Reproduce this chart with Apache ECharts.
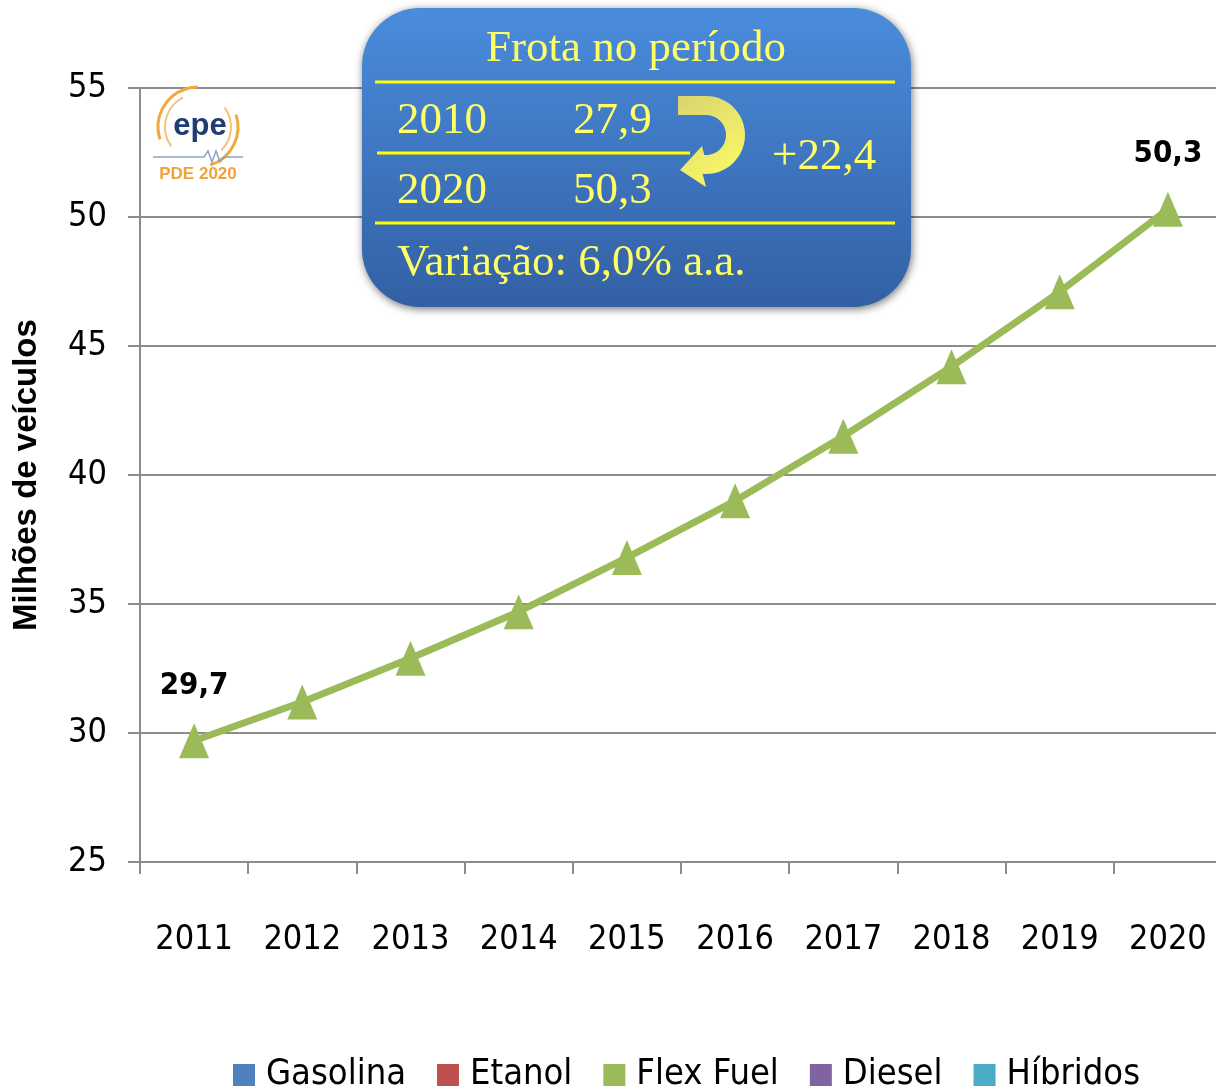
<!DOCTYPE html>
<html>
<head>
<meta charset="utf-8">
<script src="https://cdn.jsdelivr.net/npm/echarts@6/dist/echarts.min.js"></script>
<style>html,body{margin:0;padding:0;background:#fff;}#c{width:1216px;height:1088px;}</style>
</head>
<body>
<div id="c"></div>
<script>
const years = ['2011','2012','2013','2014','2015','2016','2017','2018','2019','2020'];
const flexFuel = [29.7, 31.2, 32.9, 34.7, 36.8, 39.0, 41.5, 44.2, 47.1, 50.3];
const legendNames = ['Gasolina','Etanol','Flex Fuel','Diesel','Híbridos'];
const legendColors = ['#4F81BD','#C0504D','#9BBB59','#8064A2','#4BACC6'];
const labeledIdx = [0, 9];

const narrow = '"Liberation Sans Narrow","DejaVu Sans Condensed",Arial,sans-serif';
const serif = '"Liberation Serif","DejaVu Serif",serif';

const chart = echarts.init(document.getElementById('c'));

const series = legendNames.map((n, i) => {
  if (n !== 'Flex Fuel') return {name: n, type: 'line', data: [], itemStyle: {color: legendColors[i]}};
  return {
    name: n, type: 'line', z: 3,
    data: flexFuel.map((v, k) => ({value: v, label: {show: labeledIdx.includes(k)}})),
    symbol: 'triangle', symbolSize: [30, 35],
    lineStyle: {color: legendColors[i], width: 7},
    itemStyle: {color: legendColors[i]},
    label: {position: 'top', distance: 22, fontFamily: narrow, fontWeight: 'bold', fontSize: 31, color: '#000',
      formatter: p => p.value.toFixed(1).replace('.', ',')}
  };
});

// curved arrow outline (decoration)
function arrowPoints() {
  const cx = 706, cy = 135, ro = 39, ri = 20;
  const pts = [[678, 96]];
  for (let a = -90; a <= 95; a += 5) {
    const r = a * Math.PI / 180;
    pts.push([cx + ro * Math.cos(r), cy + ro * Math.sin(r)]);
  }
  pts.push([706, 187], [680, 170], [702, 146]);
  for (let a = 95; a >= -90; a -= 5) {
    const r = a * Math.PI / 180;
    pts.push([cx + ri * Math.cos(r), cy + ri * Math.sin(r)]);
  }
  pts.push([678, 115]);
  return pts;
}

const Y = '#FFFF66';
const F = '45px ' + serif;
const graphic = [
  {type: 'rect', z: 100, shape: {x: 362, y: 8, width: 549, height: 299, r: 58},
   style: {fill: {type: 'linear', x: 0, y: 0, x2: 0, y2: 1, colorStops: [{offset: 0, color: '#4A8CDC'}, {offset: 1, color: '#3360A4'}]},
     shadowBlur: 8, shadowColor: 'rgba(0,0,0,0.55)', shadowOffsetX: 1, shadowOffsetY: 2}},
  {type: 'text', z: 101, style: {text: 'Frota no período', x: 636, y: 49, font: F, fill: Y, textAlign: 'center', verticalAlign: 'middle'}},
  {type: 'line', z: 101, shape: {x1: 375, y1: 82, x2: 895, y2: 82}, style: {stroke: '#FFFF00', lineWidth: 3}},
  {type: 'line', z: 101, shape: {x1: 377, y1: 153, x2: 690, y2: 153}, style: {stroke: '#FFFF00', lineWidth: 3}},
  {type: 'line', z: 101, shape: {x1: 375, y1: 223, x2: 895, y2: 223}, style: {stroke: '#FFFF00', lineWidth: 3}},
  {type: 'text', z: 101, style: {text: '2010', x: 397, y: 121, font: F, fill: Y, verticalAlign: 'middle'}},
  {type: 'text', z: 101, style: {text: '27,9', x: 573, y: 121, font: F, fill: Y, verticalAlign: 'middle'}},
  {type: 'text', z: 101, style: {text: '2020', x: 397, y: 191, font: F, fill: Y, verticalAlign: 'middle'}},
  {type: 'text', z: 101, style: {text: '50,3', x: 573, y: 191, font: F, fill: Y, verticalAlign: 'middle'}},
  {type: 'text', z: 101, style: {text: '+22,4', x: 772, y: 157, font: F, fill: Y, verticalAlign: 'middle'}},
  {type: 'text', z: 101, style: {text: 'Variação: 6,0% a.a.', x: 397, y: 263, font: F, fill: Y, verticalAlign: 'middle'}},
  {type: 'polygon', z: 102, shape: {points: arrowPoints()},
   style: {fill: {type: 'linear', x: 0, y: 0, x2: 1, y2: 1, colorStops: [{offset: 0, color: '#D9D46E'}, {offset: 1, color: '#FFFF66'}]}}},
  // logo
  {type: 'arc', z: 50, shape: {cx: 198, cy: 127, r: 40, startAngle: Math.PI * 0.9, endAngle: Math.PI * 1.5}, style: {stroke: '#F2A93B', lineWidth: 3, fill: null}},
  {type: 'arc', z: 50, shape: {cx: 198, cy: 127, r: 33, startAngle: Math.PI * 0.8, endAngle: Math.PI * 1.35}, style: {stroke: '#F7C27A', lineWidth: 2, fill: null}},
  {type: 'arc', z: 50, shape: {cx: 198, cy: 127, r: 40, startAngle: Math.PI * 1.9, endAngle: Math.PI * 0.4}, style: {stroke: '#F2A93B', lineWidth: 3, fill: null}},
  {type: 'arc', z: 50, shape: {cx: 198, cy: 127, r: 33, startAngle: Math.PI * 1.8, endAngle: Math.PI * 0.25}, style: {stroke: '#F7C27A', lineWidth: 2, fill: null}},
  {type: 'text', z: 51, style: {text: 'epe', x: 200, y: 126, font: 'bold 31px "Liberation Sans",Arial,sans-serif', fill: '#1F3C73', textAlign: 'center', verticalAlign: 'middle'}},
  {type: 'polyline', z: 50, shape: {points: [[153, 157], [204, 157], [208, 151], [212, 162], [216, 151], [220, 162], [224, 157], [243, 157]]}, style: {stroke: '#8FA3C4', lineWidth: 1.5, fill: null}},
  {type: 'text', z: 51, style: {text: 'PDE 2020', x: 198, y: 174, font: 'bold 17px "Liberation Sans",Arial,sans-serif', fill: '#F0A238', textAlign: 'center', verticalAlign: 'middle'}}
];

chart.setOption({
  backgroundColor: '#fff',
  animation: false,
  grid: {left: 140, top: 88, bottom: 226, width: 1082, outerBoundsMode: 'none', containLabel: false},
  xAxis: {
    type: 'category', data: years, boundaryGap: true,
    axisLine: {lineStyle: {color: '#8c8c8c', width: 2}},
    axisTick: {show: true, length: 12, lineStyle: {color: '#8c8c8c', width: 2}},
    axisLabel: {fontFamily: narrow, fontSize: 34, color: '#000', margin: 61}
  },
  yAxis: {
    type: 'value', min: 25, max: 55, interval: 5,
    name: 'Milhões de veículos', nameLocation: 'middle', nameGap: 97, nameRotate: 90,
    nameTextStyle: {fontFamily: '"Liberation Sans",Arial,sans-serif', fontWeight: 'bold', fontSize: 33, color: '#000'},
    axisLine: {show: true, lineStyle: {color: '#8c8c8c', width: 2}},
    axisTick: {show: true, length: 12, lineStyle: {color: '#8c8c8c', width: 2}},
    splitLine: {lineStyle: {color: '#8c8c8c', width: 2}},
    axisLabel: {fontFamily: narrow, fontSize: 34, color: '#000', margin: 33}
  },
  legend: {
    data: legendNames, left: 228, top: 1052, icon: 'rect', itemWidth: 22, itemHeight: 22, itemGap: 31,
    textStyle: {fontFamily: narrow, fontSize: 36, color: '#000', padding: [0, 0, 0, 6]}
  },
  series: series,
  graphic: graphic
});
</script>
</body>
</html>
